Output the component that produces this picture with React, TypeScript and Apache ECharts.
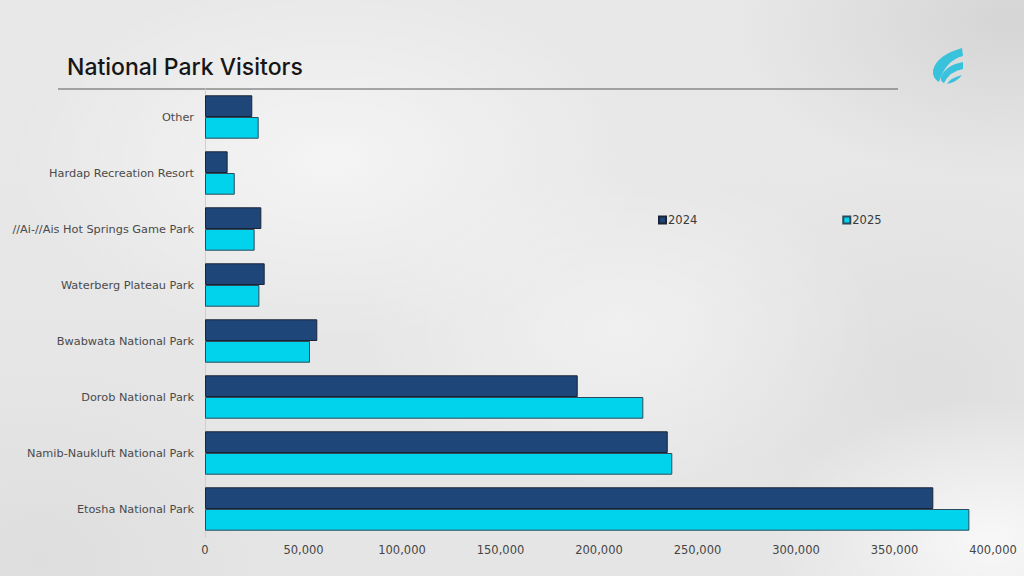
import { useEffect, useRef } from 'react';
import * as echarts from 'echarts';
import type { EChartsOption } from 'echarts';

// categories, bottom to top (category axis starts at the bottom)
const parks = [
  'Etosha National Park',
  'Namib-Naukluft National Park',
  'Dorob National Park',
  'Bwabwata National Park',
  'Waterberg Plateau Park',
  '//Ai-//Ais Hot Springs Game Park',
  'Hardap Recreation Resort',
  'Other'
];

const visitors2024 = [369700, 234900, 189200, 57000, 30300, 28600, 11500, 24000];
const visitors2025 = [388000, 237200, 222500, 53300, 27600, 25200, 15100, 27250];

const seriesNames = ['2024', '2025'];
const xTicks = [0, 50000, 100000, 150000, 200000, 250000, 300000, 350000, 400000];

const logoPath =
  'M31,0 L32,8 Q15,12 8,34 Q1,30 2,22 Q6,7 31,0 Z ' +
  'M32,14 L32,21 Q19,23 13,35 Q9,33 10,29 Q15,17 32,14 Z ' +
  'M31,27 Q26,34 16,36 Q19,30 31,27 Z';

echarts.graphic.registerShape('logo', echarts.graphic.extendPath(logoPath, {}));

const labelFont = 'DejaVu Sans';

const App = () => {
  const chartRef = useRef<HTMLDivElement>(null);

  useEffect(() => {
    if (!chartRef.current) return;
    const chart = echarts.init(chartRef.current, undefined, { renderer: 'svg' });

    const option: EChartsOption = {
      animation: false,
      backgroundColor: 'transparent',
      title: {
        text: 'National Park Visitors',
        left: 62,
        top: 50,
        textStyle: {
          fontFamily: 'Inter',
          fontSize: 23,
          fontWeight: 500,
          color: '#161616'
        }
      },
      graphic: [
        {
          type: 'line',
          shape: { x1: 58, y1: 89, x2: 898, y2: 89 },
          style: { stroke: '#5a5a5a', lineWidth: 1 }
        },
        {
          type: 'logo',
          x: 931,
          y: 48,
          scaleX: 1,
          scaleY: 1,
          style: { fill: '#38c2dc' }
        } as any
      ],
      legend: {
        data: seriesNames,
        left: 658,
        top: 214,
        padding: 0,
        itemWidth: 7,
        itemHeight: 7,
        itemGap: 145,
        icon: 'rect',
        textStyle: {
          fontFamily: labelFont,
          fontSize: 11.5,
          color: '#3a3a3a',
          padding: [0, 0, 0, -3]
        }
      },
      grid: {
        left: 205,
        right: 31,
        top: 89,
        bottom: 39
      },
      xAxis: {
        type: 'value',
        min: 0,
        max: 400000,
        interval: 50000,
        axisLine: { show: false },
        axisTick: { show: false },
        splitLine: { show: false },
        axisLabel: {
          margin: 7,
          fontFamily: labelFont,
          fontSize: 11.5,
          color: '#454545',
          formatter: (v: number) => (xTicks.includes(v) ? v.toLocaleString('en-US') : '')
        }
      },
      yAxis: {
        type: 'category',
        data: parks,
        axisLine: { show: true, lineStyle: { color: '#cfcfcf', width: 1 } },
        axisTick: { show: false },
        axisLabel: {
          margin: 11,
          fontFamily: labelFont,
          fontSize: 11.3,
          color: '#4a4a4a',
          padding: [0, 0, 3, 0]
        }
      },
      series: [
        {
          name: '2024',
          type: 'bar',
          data: visitors2024,
          barGap: '0%',
          barCategoryGap: '22.5%',
          itemStyle: {
            color: '#1f4678',
            borderColor: '#1a2436',
            borderWidth: 1
          }
        },
        {
          name: '2025',
          type: 'bar',
          data: visitors2025,
          barGap: '0%',
          barCategoryGap: '22.5%',
          itemStyle: {
            color: '#00d3eb',
            borderColor: '#2b4a5c',
            borderWidth: 1
          }
        }
      ]
    };

    chart.setOption(option);
    return () => {
      chart.dispose();
    };
  }, []);

  return (
    <div
      style={{
        position: 'fixed',
        left: 0,
        top: 0,
        width: 1024,
        height: 576,
        background: [
          'radial-gradient(ellipse 320px 180px at 330px 160px, rgba(255,255,255,0.55), rgba(255,255,255,0) 100%)',
          'radial-gradient(ellipse 260px 160px at 620px 330px, rgba(255,255,255,0.4), rgba(255,255,255,0) 100%)',
          'radial-gradient(ellipse 220px 140px at 990px 540px, rgba(255,255,255,0.75), rgba(255,255,255,0) 100%)',
          'radial-gradient(ellipse 260px 220px at 930px 380px, rgba(200,200,200,0.25), rgba(200,200,200,0) 100%)',
          'radial-gradient(ellipse 280px 160px at 1010px 20px, rgba(190,190,190,0.45), rgba(190,190,190,0) 100%)',
          'radial-gradient(ellipse 240px 200px at 40px 560px, rgba(205,205,205,0.3), rgba(205,205,205,0) 100%)',
          'linear-gradient(180deg, #e8e8e8 0%, #e5e5e5 100%)'
        ].join(', ')
      }}
    >
      <div ref={chartRef} style={{ width: 1024, height: 576 }} />
    </div>
  );
};

export default App;
